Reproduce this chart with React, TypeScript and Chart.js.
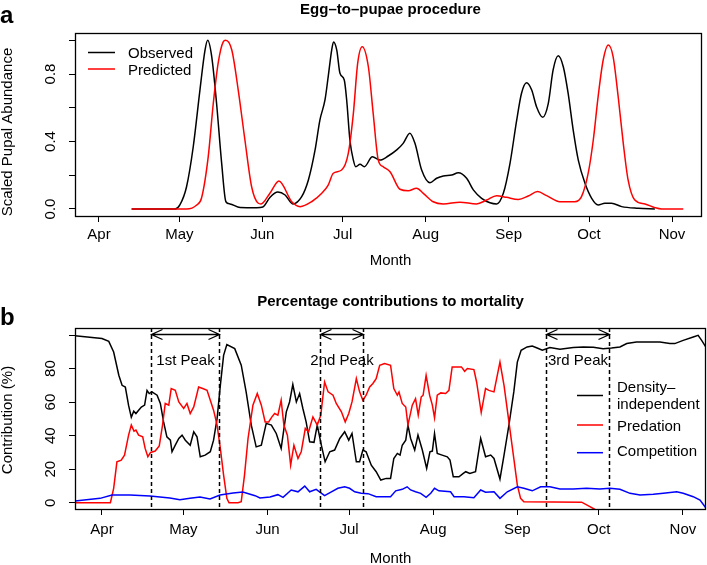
import React, { useEffect, useRef } from 'react';
import { Chart, registerables } from 'chart.js';
Chart.register(...registerables);

const FONT = "'Liberation Sans', Arial, Helvetica, sans-serif";

// x values are days since 1 April
const monthTicks = [0, 30, 61, 91, 122, 153, 183, 214];
const monthLabels = ['Apr', 'May', 'Jun', 'Jul', 'Aug', 'Sep', 'Oct', 'Nov'];

type Pt = [number, number];

// ---- Panel a: scaled pupal abundance ----
const observed: Pt[] = [
  [12.2, 0], [28.4, 0], [30.2, 0.024], [32.7, 0.132], [35.2, 0.369], [37.7, 0.705], [39.6, 0.942],
  [40.6, 1.0], [42.1, 0.903], [43.9, 0.628], [45.8, 0.273], [47.4, 0.043], [48.9, 0.03], [52.7, 0.009],
  [58.9, 0.008], [61.2, 0.012], [63.9, 0.07], [66.8, 0.1], [69.5, 0.083], [72.4, 0.03], [75.7, 0.073],
  [78.2, 0.172], [80.7, 0.35], [82.5, 0.527], [84.4, 0.646], [85.6, 0.784], [86.9, 0.942], [87.6, 0.99],
  [88.8, 0.942], [90.0, 0.804], [91.6, 0.764], [92.5, 0.646], [93.7, 0.409], [95.0, 0.29], [95.9, 0.25],
  [97.5, 0.265], [99.1, 0.25], [102.1, 0.31], [104.9, 0.29], [108.0, 0.314], [111.2, 0.35], [113.6, 0.389],
  [116.1, 0.449], [118.0, 0.389], [120.5, 0.231], [123.6, 0.156], [126.1, 0.182], [128.6, 0.196],
  [131.7, 0.201], [134.2, 0.215], [137.3, 0.182], [139.8, 0.113], [142.9, 0.063], [146.0, 0.037],
  [148.5, 0.03], [151.0, 0.093], [153.5, 0.271], [156.0, 0.527], [157.8, 0.686], [159.7, 0.748],
  [161.6, 0.705], [163.4, 0.606], [165.7, 0.543], [167.8, 0.626], [169.6, 0.824], [171.5, 0.908],
  [173.4, 0.843], [175.2, 0.686], [177.1, 0.468], [179.0, 0.29], [181.5, 0.152], [184.0, 0.063],
  [186.4, 0.024], [188.9, 0.034], [191.4, 0.034], [195.2, 0.014], [201.4, 0.004], [207.6, 0],
];
const predicted: Pt[] = [
  [12.2, 0], [32.7, 0], [36.5, 0.024], [38.3, 0.065], [40.8, 0.31], [42.7, 0.628], [44.5, 0.865],
  [46.4, 0.991], [47.3, 1.0], [49.6, 0.942], [52.0, 0.705], [54.5, 0.409], [57.0, 0.132], [59.5, 0.034],
  [60.5, 0.03], [63.9, 0.095], [67.2, 0.166], [72.0, 0.043], [75.1, 0.014], [79.4, 0.043], [83.2, 0.093],
  [85.6, 0.142], [87.5, 0.212], [90.6, 0.231], [93.1, 0.33], [95.0, 0.567], [96.6, 0.863], [98.3, 0.962],
  [100.6, 0.843], [102.4, 0.567], [104.3, 0.29], [106.2, 0.25], [108.7, 0.221], [112.4, 0.117],
  [115.5, 0.108], [118.6, 0.123], [121.1, 0.093], [124.8, 0.043], [128.6, 0.03], [134.8, 0.04],
  [141.0, 0.03], [144.8, 0.053], [148.5, 0.079], [152.2, 0.069], [156.6, 0.057], [160.3, 0.077],
  [163.8, 0.103], [167.2, 0.079], [172.1, 0.043], [177.7, 0.043], [180.2, 0.073], [182.7, 0.212],
  [184.6, 0.409], [186.4, 0.665], [188.3, 0.883], [190.2, 0.972], [192.0, 0.903], [193.9, 0.665],
  [195.8, 0.389], [197.6, 0.172], [200.1, 0.053], [203.9, 0.03], [207.6, 0.008], [210.1, 0], [218.2, 0],
];
const aYTicks = [0, 0.2, 0.4, 0.6, 0.8, 1.0];
const aYLabels = ['0.0', '', '0.4', '', '0.8', ''];
const aSeriesNames = ['Observed', 'Predicted'];

// ---- Panel b: percentage contributions to mortality ----
const densityIndependent: Pt[] = [
  [-10, 99.6], [0, 97.9], [2.5, 96.2], [4.3, 89.9], [6.2, 76], [7.4, 70], [8.6, 69], [9.8, 58], [10.8, 51],
  [11.7, 54.6], [12.5, 53.2], [13.5, 55.2], [14.5, 57.1], [15.7, 58.2], [16.6, 67], [17.4, 65.1],
  [18.4, 66.1], [20.3, 64.1], [21.5, 59.2], [22.7, 48.2], [23.9, 39.3], [25.2, 37.3], [25.8, 30.4],
  [27.0, 34.3], [28.3, 38.3], [29.5, 40.3], [30.7, 37.3], [32.5, 34.3], [33.8, 42.3], [35.0, 39.3],
  [36.2, 27.4], [38.0, 28.4], [39.9, 30.4], [41.1, 37.3], [42.4, 50.2], [43.6, 70], [44.8, 87.9],
  [46.0, 94.3], [48.9, 91.9], [51.3, 82], [53.1, 66.1], [55.0, 46.3], [56.8, 33.3], [58.7, 34.3],
  [60.5, 47.3], [62.4, 46.3], [64.2, 41.3], [66.0, 32.4], [67.9, 54.2], [69.1, 60.1], [70.3, 70.5],
  [71.6, 60.1], [72.8, 65.1], [74.0, 56.2], [75.2, 48.2], [76.5, 36.3], [78.1, 36], [79.3, 46.3],
  [80.8, 34.3], [82.2, 24.4], [83.9, 30.4], [85.7, 31.4], [87.6, 38.3], [89.4, 42.3], [90.9, 37.3],
  [92.1, 41.3], [93.7, 24.4], [94.9, 24.4], [96.1, 31.4], [97.3, 30.4], [99.2, 22.4], [101.0, 18.5],
  [102.7, 13.5], [104.7, 14.5], [106.3, 14.5], [107.5, 26.4], [108.8, 29.4], [109.8, 28.4], [110.6, 34.3],
  [111.9, 37.3], [112.7, 46.3], [113.7, 38.3], [115.2, 31.4], [116.4, 40.3], [118.0, 31.4], [119.6, 20.5],
  [120.8, 30.4], [121.7, 30.8], [122.5, 41.3], [123.5, 29.4], [125.3, 28.4], [127.2, 27.4], [128.2, 25.4],
  [129.4, 15.5], [131.5, 15.5], [133.1, 17.5], [134.0, 18.5], [135.5, 17.5], [137.6, 18.5], [139.5, 38.3],
  [141.3, 27.4], [143.2, 28.4], [144.4, 26.4], [146.6, 14.1], [148.1, 28.4], [149.9, 46.3], [151.7, 66.1],
  [153.0, 83.9], [154.4, 90.9], [156.6, 92.9], [158.5, 93.5], [160.3, 92.3], [162.2, 91], [165.0, 92.5],
  [168.7, 91.5], [173.6, 92.5], [177.3, 92.9], [181.0, 92.7], [184.6, 91.9], [187.7, 92.3], [190.8, 92.9],
  [193.3, 94.9], [196.9, 95.8], [201.8, 95.8], [205.5, 95.8], [209.2, 94.9], [211.0, 94.9], [214.1, 96.8],
  [217.8, 98.8], [219.6, 99.8], [220.9, 96.8], [222.4, 92.9],
];
const predation: Pt[] = [
  [-10, 0], [3.1, 0], [4.3, 8.6], [5.5, 24.4], [7.1, 25.4], [8.3, 28.4], [9.8, 40.3], [10.8, 46.3],
  [11.8, 42.7], [12.5, 43.3], [13.5, 40.3], [15.0, 39.3], [15.9, 32.4], [16.9, 27.4], [17.9, 30],
  [19.6, 30.8], [21.1, 33.9], [22.3, 46.3], [23.3, 59.2], [24.6, 58.2], [25.5, 68.1], [27.0, 67.1],
  [28.3, 60.1], [30.1, 56.2], [31.3, 59.2], [32.5, 53.2], [33.8, 57.1], [35.6, 69], [37.1, 68.1],
  [38.7, 67.1], [39.9, 61.1], [41.1, 55.2], [42.4, 46.3], [43.6, 32.4], [44.8, 16.5], [46.0, 2.6],
  [46.8, 0], [50.1, 0], [51.3, 0.6], [52.5, 16.5], [53.8, 38.3], [55.6, 58.2], [57.2, 65.1], [58.7, 58.2],
  [60.1, 48.2], [61.4, 48.2], [62.6, 51.2], [63.6, 53.2], [64.8, 52.2], [66.0, 61.1], [67.0, 46.3],
  [68.3, 40.3], [69.5, 22.4], [70.7, 34.3], [72.2, 26.4], [73.4, 30.4], [74.9, 44.3], [76.1, 42.3],
  [77.7, 51.2], [79.3, 46.3], [80.6, 52.2], [82.0, 72], [83.3, 66.1], [85.1, 64.1], [86.3, 59.2],
  [88.2, 54.2], [89.6, 48.2], [90.9, 53.2], [92.1, 60.1], [93.7, 74], [94.9, 66.1], [96.1, 61.1],
  [97.3, 64.1], [98.6, 69], [99.8, 71.1], [101.0, 74], [102.3, 82], [104.1, 83], [106.3, 82], [107.5, 68.1],
  [108.8, 64.1], [109.4, 66], [110.6, 59.2], [111.9, 57.1], [112.7, 46.3], [114.3, 58.2], [115.5, 62.1],
  [116.5, 52.2], [117.6, 63.1], [118.3, 64.1], [119.4, 76], [120.7, 64.1], [121.7, 58.2], [122.5, 50.6],
  [123.5, 64.1], [124.8, 65.5], [126.6, 65.1], [127.8, 67], [129.0, 81], [130.9, 81], [132.4, 81],
  [133.6, 78.4], [134.6, 80], [137.0, 79.4], [138.0, 72], [139.7, 53.8], [141.3, 68.1], [142.5, 67],
  [144.4, 66.1], [146.6, 83.9], [148.1, 70], [149.9, 48.2], [151.7, 26.4], [153.0, 10.5], [154.2, 2.6],
  [155.4, 0.6], [176.7, 0.3], [181.6, -4], [185.3, -9],
];
const competition: Pt[] = [
  [-10, 1], [-0.7, 2.6], [3.7, 4.6], [10.3, 4.6], [17.7, 4], [25.0, 2.8], [28.7, 1.8], [32.4, 2.6],
  [36.1, 3.4], [39.8, 2.2], [43.5, 4.6], [48.3, 5.8], [51.9, 6.4], [56.4, 4.2], [58.2, 2.8], [61.9, 3.4],
  [64.8, 4.8], [66.7, 3.2], [69.7, 7.6], [72.2, 6.5], [74.7, 9.9], [76.5, 6.5], [78.9, 8], [82.0, 4.2],
  [84.5, 6.5], [86.9, 8.6], [89.4, 9.5], [91.2, 8.6], [93.1, 6.5], [95.5, 5.6], [98.0, 5.4], [101.0, 3.6],
  [103.9, 3.6], [106.3, 3.6], [108.2, 7.1], [110.6, 8], [112.4, 9.5], [113.7, 7.6], [115.5, 6.5],
  [117.4, 5.6], [119.4, 3.2], [121.1, 5.6], [122.5, 8.6], [124.1, 7.1], [128.4, 6.5], [129.7, 3.6],
  [133.3, 3.6], [137.0, 3], [139.5, 7.6], [141.3, 6.3], [144.4, 6.5], [146.6, 2.6], [149.3, 6.5],
  [153.0, 9.5], [155.4, 8.6], [158.5, 7.1], [161.6, 9.5], [165.0, 9.5], [168.7, 8.2], [173.6, 8.2],
  [178.5, 8.6], [183.4, 8.2], [187.1, 8.6], [190.8, 8], [194.5, 5.6], [198.2, 4.6], [203.1, 5],
  [206.8, 5.6], [211.7, 6.5], [214.1, 5.6], [217.8, 3.6], [220.3, 1.6], [222.4, -3],
];
const bYTicks = [0, 20, 40, 60, 80, 100];
const bYLabels = ['0', '20', '40', '60', '80', ''];
const bSeriesNames = ['Density–independent', 'Predation', 'Competition'];
const bLegendLines = [['Density–', 'independent'], ['Predation'], ['Competition']];
const peakStart = [18.0, 80.3, 163.5];
const peakEnd = [43.1, 96.1, 186.7];
const peakLabels = ['1st Peak', '2nd Peak', '3rd Peak'];

const toXY = (pts: Pt[]) => pts.map(([x, y]) => ({ x, y }));

interface LegendItem { lines: string[]; color: string; lineY: number; textY: number[] }
interface PanelCfg {
  height: number;
  padTop: number; padRight: number; xAxisHeight: number; tickPad: number;
  xMin: number; xMax: number; yMin: number; yMax: number;
  yTicks: number[]; yLabels: string[];
  datasets: any[];
  title: string; titleY: number; letter: string; letterY: number;
  yTitle: string; yTitleCenter: number; monthY: number;
  legend: LegendItem[]; legX1: number; legX2: number; legTextX: number;
  peaks: boolean; peakTextY: number;
}

function decorPlugin(cfg: PanelCfg) {
  return {
    id: 'decor',
    afterDatasetsDraw(chart: any) {
      if (!cfg.peaks) return;
      const { ctx, chartArea: a } = chart;
      const xs = chart.scales.x;
      ctx.save();
      ctx.strokeStyle = '#000';
      ctx.fillStyle = '#000';
      ctx.lineWidth = 1.5;
      ctx.setLineDash([4, 3]);
      [...peakStart, ...peakEnd].forEach((d) => {
        const px = Math.round(xs.getPixelForValue(d)) + 0.5;
        ctx.beginPath();
        ctx.moveTo(px, a.top);
        ctx.lineTo(px, a.bottom);
        ctx.stroke();
      });
      ctx.setLineDash([]);
      const ay = a.top + 6.5;
      ctx.lineWidth = 1.3;
      ctx.font = `15px ${FONT}`;
      ctx.textAlign = 'center';
      ctx.textBaseline = 'alphabetic';
      peakStart.forEach((d, i) => {
        const x1 = Math.round(xs.getPixelForValue(d)) + 0.5;
        const x2 = Math.round(xs.getPixelForValue(peakEnd[i])) + 0.5;
        ctx.beginPath();
        ctx.moveTo(x1, ay); ctx.lineTo(x2, ay);
        ctx.moveTo(x1 + 11, ay - 5); ctx.lineTo(x1, ay); ctx.lineTo(x1 + 11, ay + 5);
        ctx.moveTo(x2 - 11, ay - 5); ctx.lineTo(x2, ay); ctx.lineTo(x2 - 11, ay + 5);
        ctx.stroke();
        ctx.fillText(peakLabels[i], (x1 + x2) / 2, cfg.peakTextY);
      });
      ctx.restore();
    },
    afterDraw(chart: any) {
      const { ctx, chartArea: a } = chart;
      const ys = chart.scales.y;
      ctx.save();
      ctx.strokeStyle = '#000';
      ctx.fillStyle = '#000';
      ctx.lineWidth = 1.3;
      ctx.strokeRect(Math.round(a.left) + 0.5, Math.round(a.top) + 0.5,
        Math.round(a.right - a.left) - 1, Math.round(a.bottom - a.top));
      // rotated y tick labels
      ctx.font = `15px ${FONT}`;
      ctx.textAlign = 'center';
      ctx.textBaseline = 'alphabetic';
      cfg.yTicks.forEach((v, i) => {
        if (!cfg.yLabels[i]) return;
        ctx.save();
        ctx.translate(55, ys.getPixelForValue(v));
        ctx.rotate(-Math.PI / 2);
        ctx.fillText(cfg.yLabels[i], 0, 0);
        ctx.restore();
      });
      // y title
      ctx.save();
      ctx.translate(12, cfg.yTitleCenter);
      ctx.rotate(-Math.PI / 2);
      ctx.fillText(cfg.yTitle, 0, 0);
      ctx.restore();
      // x title
      ctx.fillText('Month', 390.5, cfg.monthY);
      // main title
      ctx.font = `bold 15px ${FONT}`;
      ctx.fillText(cfg.title, 390.5, cfg.titleY);
      // panel letter
      ctx.font = `bold 24px ${FONT}`;
      ctx.textAlign = 'left';
      ctx.fillText(cfg.letter, 0, cfg.letterY);
      // legend
      ctx.font = `15px ${FONT}`;
      ctx.lineWidth = 1.5;
      cfg.legend.forEach((it) => {
        ctx.strokeStyle = it.color;
        ctx.beginPath();
        ctx.moveTo(cfg.legX1, it.lineY);
        ctx.lineTo(cfg.legX2, it.lineY);
        ctx.stroke();
        it.lines.forEach((t, k) => ctx.fillText(t, cfg.legTextX, it.textY[k]));
      });
      ctx.restore();
    },
  };
}

function makeChart(canvas: HTMLCanvasElement, cfg: PanelCfg) {
  return new Chart(canvas, {
    type: 'line',
    data: { datasets: cfg.datasets },
    options: {
      responsive: false,
      animation: false,
      devicePixelRatio: 1,
      layout: { padding: { left: 0, right: cfg.padRight, top: cfg.padTop, bottom: 0 } },
      plugins: { legend: { display: false }, tooltip: { enabled: false }, title: { display: false } },
      elements: { point: { radius: 0 } },
      scales: {
        x: {
          type: 'linear',
          min: cfg.xMin,
          max: cfg.xMax,
          afterBuildTicks: (s: any) => { s.ticks = monthTicks.map((v) => ({ value: v })); },
          afterFit: (s: any) => { s.height = cfg.xAxisHeight; },
          grid: { display: true, drawOnChartArea: false, drawTicks: true, tickLength: 6, color: '#000', lineWidth: 1 },
          border: { display: false },
          ticks: {
            autoSkip: false, maxRotation: 0, minRotation: 0, padding: cfg.tickPad, color: '#000',
            font: { family: FONT, size: 15 },
            callback: (v: any) => monthLabels[monthTicks.indexOf(Number(v))] ?? '',
          },
        },
        y: {
          type: 'linear',
          min: cfg.yMin,
          max: cfg.yMax,
          afterBuildTicks: (s: any) => { s.ticks = cfg.yTicks.map((v) => ({ value: v })); },
          afterFit: (s: any) => { s.width = 75; },
          grid: { display: true, drawOnChartArea: false, drawTicks: true, tickLength: 6, color: '#000', lineWidth: 1 },
          border: { display: false },
          ticks: { display: false },
        },
      },
    } as any,
    plugins: [decorPlugin(cfg)],
  });
}

const lineDs = (label: string, pts: Pt[], color: string, order: number, smooth: boolean) => ({
  label,
  data: toXY(pts),
  borderColor: color,
  backgroundColor: color,
  borderWidth: 1.5,
  pointRadius: 0,
  fill: false,
  order,
  tension: smooth ? 0.4 : 0,
  cubicInterpolationMode: smooth ? 'monotone' : 'default',
});

const cfgA: PanelCfg = {
  height: 280, padTop: 33, padRight: 5, xAxisHeight: 64, tickPad: 4,
  xMin: -8.96, xMax: 225.2, yMin: -0.0415, yMax: 1.043,
  yTicks: aYTicks, yLabels: aYLabels,
  datasets: [
    lineDs(aSeriesNames[0], observed, '#000000', 1, true),
    lineDs(aSeriesNames[1], predicted, '#FF0000', 0, true),
  ],
  title: 'Egg–to–pupae procedure', titleY: 14, letter: 'a', letterY: 23,
  yTitle: 'Scaled Pupal Abundance', yTitleCenter: 132, monthY: 265,
  legend: [
    { lines: [aSeriesNames[0]], color: '#000000', lineY: 52.5, textY: [58] },
    { lines: [aSeriesNames[1]], color: '#FF0000', lineY: 69, textY: [75] },
  ],
  legX1: 88, legX2: 115, legTextX: 128,
  peaks: false, peakTextY: 0,
};

const cfgB: PanelCfg = {
  height: 285, padTop: 48, padRight: 1, xAxisHeight: 56, tickPad: 5.5,
  xMin: -9.94, xMax: 222.5, yMin: -3.75, yMax: 104.2,
  yTicks: bYTicks, yLabels: bYLabels,
  datasets: [
    lineDs(bSeriesNames[0], densityIndependent, '#000000', 2, false),
    lineDs(bSeriesNames[1], predation, '#FF0000', 1, false),
    lineDs(bSeriesNames[2], competition, '#0000FF', 0, false),
  ],
  title: 'Percentage contributions to mortality', titleY: 25.5, letter: 'b', letterY: 45,
  yTitle: 'Contribution (%)', yTitleCenter: 140, monthY: 283,
  legend: [
    { lines: bLegendLines[0], color: '#000000', lineY: 115.5, textY: [111.5, 128.5] },
    { lines: bLegendLines[1], color: '#FF0000', lineY: 145, textY: [151] },
    { lines: bLegendLines[2], color: '#0000FF', lineY: 172.7, textY: [176] },
  ],
  legX1: 577, legX2: 603, legTextX: 617,
  peaks: true, peakTextY: 85,
};

function Panel({ cfg, top }: { cfg: PanelCfg; top: number }) {
  const ref = useRef<HTMLCanvasElement>(null);
  useEffect(() => {
    if (!ref.current) return;
    const chart = makeChart(ref.current, cfg);
    return () => chart.destroy();
  }, [cfg]);
  return (
    <canvas
      ref={ref}
      width={707}
      height={cfg.height}
      style={{ position: 'absolute', left: 0, top, width: 707, height: cfg.height, display: 'block' }}
    />
  );
}

export default function App() {
  return (
    <div style={{ position: 'absolute', left: 0, top: 0, width: 707, height: 565, background: '#fff' }}>
      <Panel cfg={cfgA} top={0} />
      <Panel cfg={cfgB} top={280} />
    </div>
  );
}
